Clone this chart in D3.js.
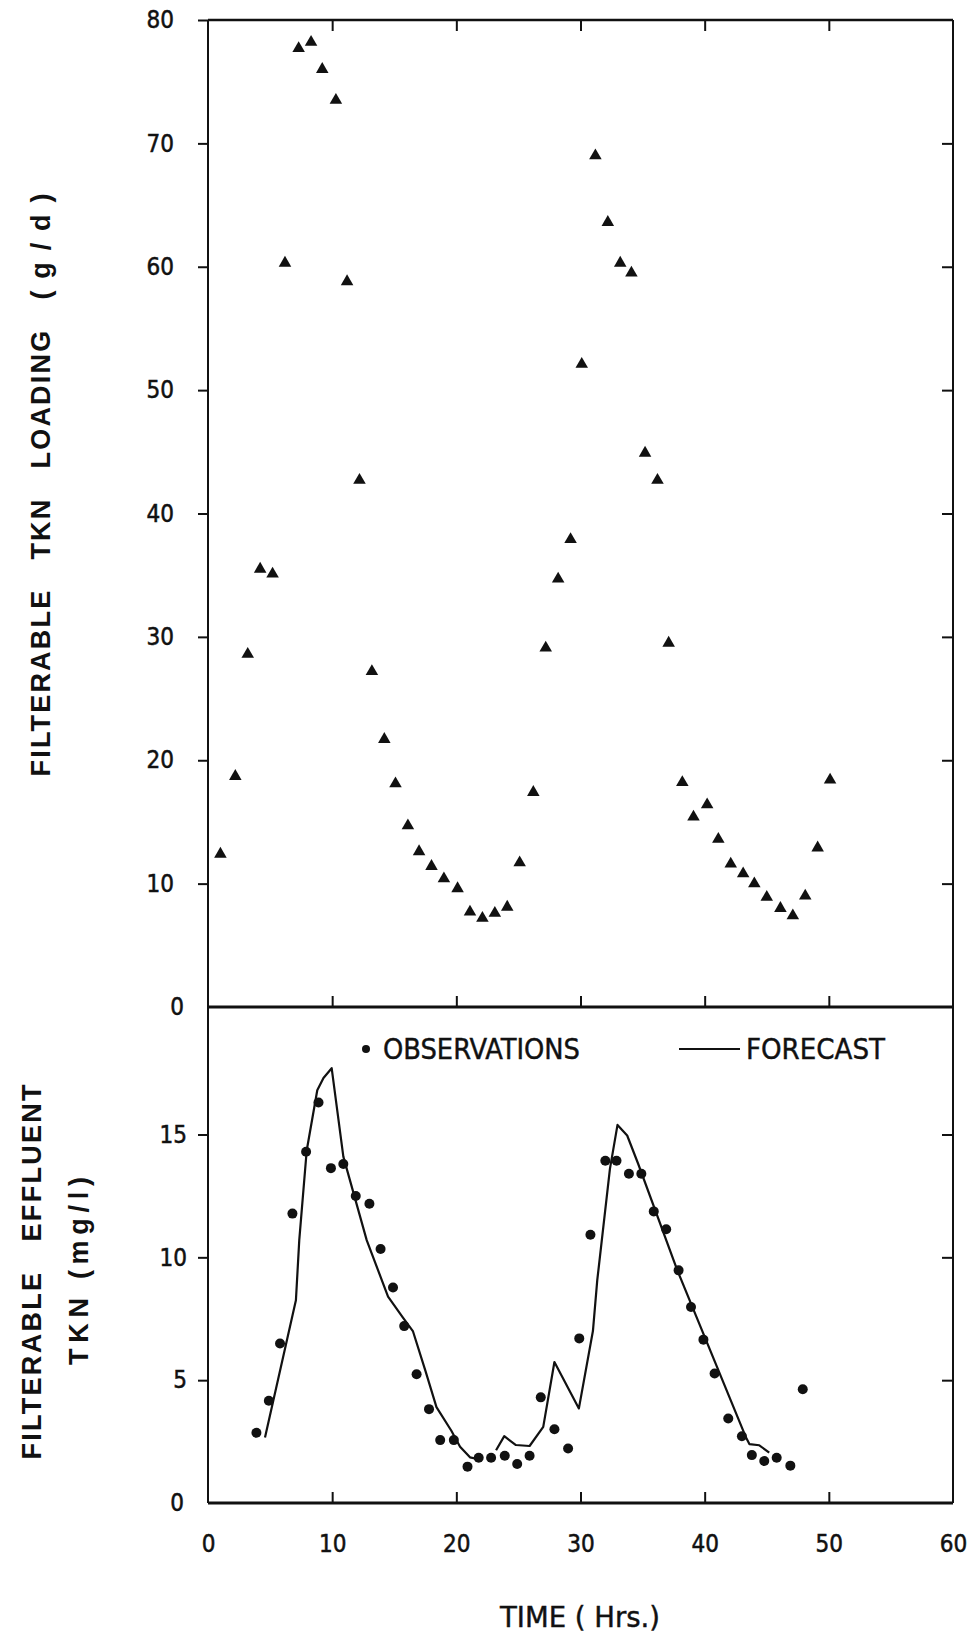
<!DOCTYPE html>
<html>
<head>
<meta charset="utf-8">
<script src="https://cdn.jsdelivr.net/npm/d3@7"></script>
<style>
  html, body { margin: 0; padding: 0; background: #ffffff; }
  svg { display: block; }
  .num { font-family: "Liberation Sans Narrow", "DejaVu Sans Condensed", "Arial Narrow", sans-serif; font-size: 24px; fill: #111; stroke: #111; stroke-width: 0.5px; }
  .title { font-family: "Liberation Sans", "DejaVu Sans", Arial, sans-serif; font-weight: bold; font-size: 27px; fill: #111; }
  .legend { font-family: "Liberation Sans Narrow", "DejaVu Sans Condensed", "Arial Narrow", sans-serif; font-size: 28px; fill: #111; stroke: #111; stroke-width: 0.4px; }
</style>
</head>
<body>
<div id="chart"></div>
<script>
// Hourly filterable TKN loading (g/d)
const loadingHours = [1.0, 2.2, 3.2, 4.2, 5.2, 6.2, 7.3, 8.3, 9.2, 10.3,
  11.2, 12.2, 13.2, 14.2, 15.1, 16.1, 17.0, 18.0, 19.0, 20.1,
  21.1, 22.1, 23.1, 24.1, 25.1, 26.2, 27.2, 28.2, 29.2, 30.1,
  31.2, 32.2, 33.2, 34.1, 35.2, 36.2, 37.1, 38.2, 39.1, 40.2,
  41.1, 42.1, 43.1, 44.0, 45.0, 46.1, 47.1, 48.1, 49.1, 50.1];
const loadingValues = [12.4, 18.7, 28.6, 35.5, 35.1, 60.3, 77.7, 78.2, 76.0, 73.5,
  58.8, 42.7, 27.2, 21.7, 18.1, 14.7, 12.6, 11.4, 10.4, 9.6,
  7.7, 7.2, 7.6, 8.1, 11.7, 17.4, 29.1, 34.7, 37.9, 52.1,
  69.0, 63.6, 60.3, 59.5, 44.9, 42.7, 29.5, 18.2, 15.4, 16.4,
  13.6, 11.6, 10.8, 10.0, 8.9, 8.0, 7.4, 9.0, 12.9, 18.4];

// Filterable effluent TKN (mg/l): observations
const obsHours = [3.9, 4.9, 5.8, 6.8, 7.9, 8.9, 9.9, 10.9, 11.9, 13.0,
  13.9, 14.9, 15.8, 16.8, 17.8, 18.7, 19.8, 20.9, 21.8, 22.8,
  23.9, 24.9, 25.9, 26.8, 27.9, 29.0, 29.9, 30.8, 32.0, 32.9,
  33.9, 34.9, 35.9, 36.9, 37.9, 38.9, 39.9, 40.8, 41.9, 43.0,
  43.8, 44.8, 45.8, 46.9, 47.9];
const obsValues = [2.86, 4.16, 6.49, 11.78, 14.3, 16.3, 13.63, 13.8, 12.5, 12.18,
  10.34, 8.77, 7.2, 5.24, 3.82, 2.56, 2.56, 1.48, 1.84, 1.84,
  1.92, 1.59, 1.92, 4.3, 3.0, 2.22, 6.7, 10.92, 13.93, 13.93,
  13.4, 13.4, 11.87, 11.14, 9.47, 7.98, 6.65, 5.27, 3.44, 2.72,
  1.95, 1.71, 1.84, 1.52, 4.63];

// Forecast trace (null marks a break in the trace)
const forecastHours = [4.59, 7.08, 7.35, 7.95, 8.8, 9.3, 9.96, 10.9, 12.78, 14.5,
  15.7, 16.5, 17.5, 18.4, 19.6, 20.3, 21.1, 21.6, 22.4,
  23.2, 23.86, 24.8, 25.9, 27.0, 27.9, 29.87, 31.0, 31.35, 32.37,
  32.98, 33.76, 34.65, 37.8, 43.3, 43.6, 44.4, 45.2];
const forecastValues = [2.67, 8.25, 10.7, 14.35, 16.8, 17.3, 17.7, 14.1, 10.7, 8.4,
  7.55, 7.0, 5.4, 3.9, 2.94, 2.29, 1.86, 1.8, null,
  2.15, 2.72, 2.36, 2.32, 3.1, 5.74, 3.85, 7.0, 9.07, 13.6,
  15.39, 14.96, 13.8, 9.47, 2.7, 2.4, 2.35, 2.05];

// Tick labels
const timeTicks = [0, 10, 20, 30, 40, 50, 60];
const loadingTicks = [0, 10, 20, 30, 40, 50, 60, 70, 80];
const effluentTicks = [0, 5, 10, 15];

const W = 975, H = 1634;
const svg = d3.select("#chart").append("svg").attr("width", W).attr("height", H);

const plotLeft = 208, plotRight = 953, plotTop = 20, plotMid = 1007, plotBottom = 1503;
const x = d3.scaleLinear().domain([0, 60]).range([plotLeft, plotRight]);
const yTop = d3.scaleLinear().domain([0, 80]).range([plotMid, plotTop]);
const yBot = d3.scaleLinear().domain([0, 20.19]).range([plotBottom, plotMid]);

function styleAxis(g, width) {
  g.select(".domain").remove();
  g.selectAll(".tick line").attr("stroke", "#111").attr("stroke-width", width || 2);
  g.selectAll(".tick text").attr("class", "num").attr("fill", "#111");
}

// Frame
const frame = svg.append("g").attr("stroke", "#111").attr("fill", "none");
frame.append("line").attr("x1", plotLeft).attr("x2", plotRight).attr("y1", plotTop).attr("y2", plotTop).attr("stroke-width", 2.5);
frame.append("line").attr("x1", plotLeft).attr("x2", plotLeft).attr("y1", plotTop).attr("y2", plotBottom).attr("stroke-width", 2);
frame.append("line").attr("x1", plotRight).attr("x2", plotRight).attr("y1", plotTop).attr("y2", plotBottom).attr("stroke-width", 2);
frame.append("line").attr("x1", plotLeft).attr("x2", plotRight).attr("y1", plotMid).attr("y2", plotMid).attr("stroke-width", 3);
frame.append("line").attr("x1", plotLeft).attr("x2", plotRight).attr("y1", plotBottom).attr("y2", plotBottom).attr("stroke-width", 3);

// Left axes with labels
svg.append("g").attr("transform", `translate(${plotLeft},0)`)
  .call(d3.axisLeft(yTop).tickValues(loadingTicks.filter(d => d > 0)).tickSize(10).tickPadding(24).tickFormat(d3.format("d")))
  .call(g => styleAxis(g));
svg.append("g").attr("transform", `translate(${plotLeft},0)`)
  .call(d3.axisLeft(yTop).tickValues([0]).tickSize(0).tickPadding(24).tickFormat(d3.format("d")))
  .call(g => styleAxis(g));
svg.append("g").attr("transform", `translate(${plotLeft},0)`)
  .call(d3.axisLeft(yBot).tickValues(effluentTicks.filter(d => d > 0)).tickSize(10).tickPadding(11).tickFormat(d3.format("d")))
  .call(g => styleAxis(g));
svg.append("g").attr("transform", `translate(${plotLeft},0)`)
  .call(d3.axisLeft(yBot).tickValues([0]).tickSize(0).tickPadding(24).tickFormat(d3.format("d")))
  .call(g => styleAxis(g));

// Right-side inner ticks
svg.append("g").attr("transform", `translate(${plotRight},0)`)
  .call(d3.axisLeft(yTop).tickValues(loadingTicks.filter(d => d > 0 && d < 80)).tickSize(11).tickFormat(""))
  .call(g => styleAxis(g));
svg.append("g").attr("transform", `translate(${plotRight},0)`)
  .call(d3.axisLeft(yBot).tickValues(effluentTicks.filter(d => d > 0)).tickSize(11).tickFormat(""))
  .call(g => styleAxis(g));

// Time ticks on top edge, the divider and the bottom edge
const innerTime = timeTicks.filter(d => d > 0 && d < 60);
svg.append("g").attr("transform", `translate(0,${plotTop})`)
  .call(d3.axisBottom(x).tickValues(innerTime).tickSize(11).tickFormat(""))
  .call(g => styleAxis(g));
svg.append("g").attr("transform", `translate(0,${plotMid})`)
  .call(d3.axisTop(x).tickValues(innerTime).tickSize(11).tickFormat(""))
  .call(g => styleAxis(g));
svg.append("g").attr("transform", `translate(0,${plotBottom})`)
  .call(d3.axisTop(x).tickValues(innerTime).tickSize(11).tickFormat(""))
  .call(g => styleAxis(g));
svg.append("g").attr("transform", `translate(0,${plotBottom})`)
  .call(d3.axisBottom(x).tickValues(timeTicks).tickSize(0).tickPadding(32).tickFormat(d3.format("d")))
  .call(g => styleAxis(g));

// Axis titles
svg.append("text").attr("class", "title")
  .attr("transform", "translate(40,485) rotate(-90)")
  .attr("text-anchor", "middle").attr("dy", "0.36em")
  .attr("xml:space", "preserve")
  .attr("textLength", 583).attr("lengthAdjust", "spacing")
  .text("FILTERABLE   TKN   LOADING   ( g / d )");
svg.append("text").attr("class", "title")
  .attr("transform", "translate(31,1272) rotate(-90)")
  .attr("text-anchor", "middle").attr("dy", "0.36em")
  .attr("xml:space", "preserve")
  .attr("textLength", 375).attr("lengthAdjust", "spacing")
  .text("FILTERABLE   EFFLUENT");
svg.append("text").attr("class", "title")
  .attr("transform", "translate(78,1271) rotate(-90)")
  .attr("text-anchor", "middle").attr("dy", "0.36em")
  .attr("xml:space", "preserve")
  .attr("textLength", 188).attr("lengthAdjust", "spacing")
  .text("TKN (mg/l)");
svg.append("text").attr("class", "legend")
  .attr("x", 500).attr("y", 1627)
  .attr("xml:space", "preserve")
  .attr("textLength", 160).attr("lengthAdjust", "spacingAndGlyphs")
  .text("TIME ( Hrs.)");

// Loading triangles
const tri = d3.symbol().type(d3.symbolTriangle).size(68);
svg.append("g").selectAll("path")
  .data(loadingHours.map((h, i) => [h, loadingValues[i]]))
  .join("path")
  .attr("d", tri)
  .attr("transform", d => `translate(${x(d[0])},${yTop(d[1])})`)
  .attr("fill", "#111");

// Forecast line
const line = d3.line()
  .defined(d => d[1] != null)
  .x(d => x(d[0])).y(d => yBot(d[1]));
svg.append("path")
  .datum(forecastHours.map((h, i) => [h, forecastValues[i]]))
  .attr("d", line)
  .attr("fill", "none").attr("stroke", "#111").attr("stroke-width", 2.2)
  .attr("stroke-linejoin", "round");

// Observation dots
svg.append("g").selectAll("circle")
  .data(obsHours.map((h, i) => [h, obsValues[i]]))
  .join("circle")
  .attr("cx", d => x(d[0])).attr("cy", d => yBot(d[1]))
  .attr("r", 5).attr("fill", "#111");

// Legend
const legend = svg.append("g");
legend.append("circle").attr("cx", 366).attr("cy", 1049).attr("r", 4).attr("fill", "#111");
legend.append("text").attr("class", "legend").attr("x", 383).attr("y", 1059)
  .attr("textLength", 197).attr("lengthAdjust", "spacingAndGlyphs").text("OBSERVATIONS");
legend.append("line").attr("x1", 679).attr("x2", 740).attr("y1", 1049).attr("y2", 1049)
  .attr("stroke", "#111").attr("stroke-width", 2.2);
legend.append("text").attr("class", "legend").attr("x", 746).attr("y", 1059)
  .attr("textLength", 139).attr("lengthAdjust", "spacingAndGlyphs").text("FORECAST");
</script>
</body>
</html>
